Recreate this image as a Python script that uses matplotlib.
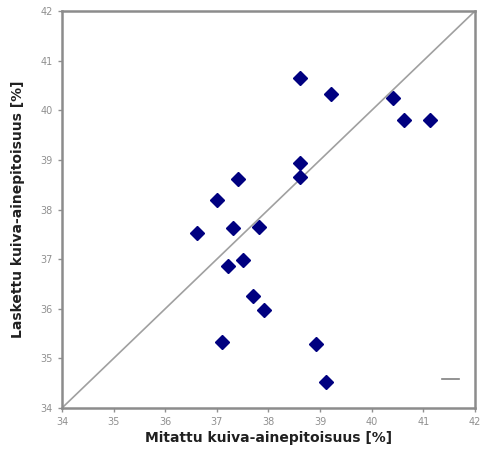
import numpy as np
import matplotlib.pyplot as plt
from matplotlib.lines import Line2D

# ----------- Data ----------- #
measured = [38.61, 39.21, 40.41, 40.63, 41.13, 38.61, 38.61, 37.41, 37.00, 37.31,
            37.82, 36.62, 37.51, 37.22, 37.70, 37.91, 37.10, 38.92, 39.12]
calculated = [40.65, 40.33, 40.25, 39.80, 39.80, 38.94, 38.65, 38.61, 38.19, 37.62,
              37.65, 37.52, 36.98, 36.86, 36.25, 35.97, 35.33, 35.29, 34.52]
axis_range = [34, 42]
ticks = [34, 35, 36, 37, 38, 39, 40, 41, 42]

# ----------- Plot ----------- #
fig = plt.figure(figsize=(4.82, 4.65), dpi=100)
ax = fig.add_axes([0.1286, 0.1226, 0.8569, 0.8537])

ax.plot(axis_range, axis_range, color='#a0a0a0', linewidth=1.2, zorder=1)
ax.plot(measured, calculated, linestyle='none', marker='D', markersize=7,
        color='#000080', markeredgecolor='#000080', zorder=3)

ax.set_xlim(axis_range)
ax.set_ylim(axis_range)
ax.set_xticks(ticks)
ax.set_yticks(ticks)
ax.tick_params(axis='both', labelsize=7, colors='#909090', length=3, width=1,
               labelcolor='#909090')

for s in ax.spines.values():
    s.set_color('#8c8c8c')
    s.set_linewidth(1.8)

ax.set_xlabel('Mitattu kuiva-ainepitoisuus [%]', fontsize=10, fontweight='bold',
              color='#202020', labelpad=3)
ax.set_ylabel('Laskettu kuiva-ainepitoisuus [%]', fontsize=10, fontweight='bold',
              color='#202020', labelpad=11)

# leftover legend key from the original chart
handle = Line2D([], [], color='#808080', linewidth=1.2)
ax.legend([handle], [''], loc='lower right', frameon=False, handlelength=1.2,
          bbox_to_anchor=(1.018, 0.022))

fig.savefig('out.png', dpi=100)
